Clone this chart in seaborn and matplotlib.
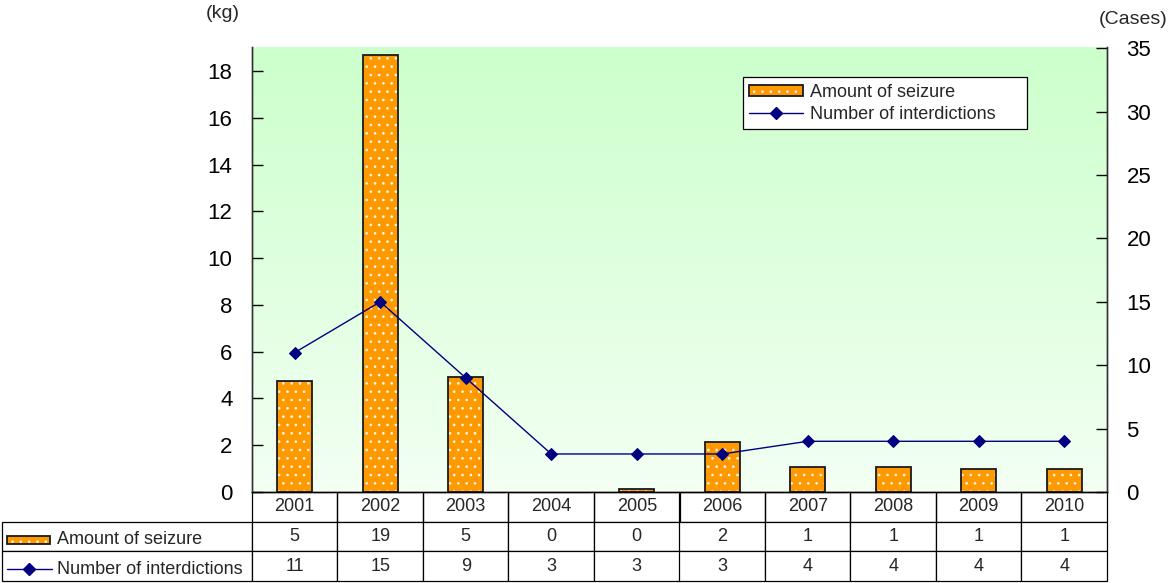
import numpy as np
import pandas as pd
import matplotlib
matplotlib.use("Agg")
import matplotlib.pyplot as plt
from matplotlib.patches import Rectangle
from matplotlib.lines import Line2D
from matplotlib.colors import LinearSegmentedColormap
import seaborn as sns

# Data
years = ["2001", "2002", "2003", "2004", "2005", "2006", "2007", "2008", "2009", "2010"]
seizure_kg = [4.75, 18.7, 4.9, 0.0, 0.12, 2.12, 1.06, 1.06, 1.0, 1.0]
interdictions = [11, 15, 9, 3, 3, 3, 4, 4, 4, 4]
seizure_label = "Amount of seizure"
interdiction_label = "Number of interdictions"
left_ticks = [0, 2, 4, 6, 8, 10, 12, 14, 16, 18]
right_ticks = [0, 5, 10, 15, 20, 25, 30, 35]

sns.set_theme(style="white")
plt.rcParams["font.family"] = ["Liberation Sans", "DejaVu Sans"]
plt.rcParams["hatch.linewidth"] = 0.7

BAR_COLOR = "#FF9900"
LINE_COLOR = "#000080"
EDGE = "#1a1a1a"
TXT = 13

df = pd.DataFrame({"year": years, "kg": seizure_kg, "cases": interdictions})
df["pos"] = np.arange(len(df))

W, H = 1172, 583
fig = plt.figure(figsize=(W / 100, H / 100), dpi=100)
ax = fig.add_axes([252 / W, 1 - 492 / H, 855 / W, 445 / H])

# green gradient background of the plot area
cmap = LinearSegmentedColormap.from_list("bg", ["#F3FFF3", "#CCFFCC"])
grad = np.linspace(0, 1, 256).reshape(-1, 1)
ax.imshow(grad, extent=[0, 1, 0, 1], transform=ax.transAxes, cmap=cmap,
          origin="lower", aspect="auto", zorder=0)

sns.barplot(data=df, x="year", y="kg", ax=ax, color=BAR_COLOR, width=0.41,
            saturation=1, zorder=2)
# dotted fill plus a dark outline on each bar
for p in ax.patches:
    p.set_hatch("..")
    p.set_edgecolor("#FFF4E8")
    p.set_linewidth(0)
    if p.get_height() > 0:
        ax.add_patch(Rectangle(p.get_xy(), p.get_width(), p.get_height(),
                               fill=False, ec=EDGE, lw=1.3, zorder=3))

ax.set_xlim(-0.5, len(years) - 0.5)
ax.set_ylim(0, 19.03)
ax.set_yticks(left_ticks)
ax.set_xlabel("")
ax.set_ylabel("")
ax.set_xticks([])
ax.tick_params(axis="y", direction="in", length=8, width=1, labelsize=16,
               pad=14, left=True, colors="black")

ax2 = ax.twinx()
sns.lineplot(data=df, x="pos", y="cases", ax=ax2, color=LINE_COLOR, lw=1.0,
             marker="D", markersize=6, markeredgecolor=LINE_COLOR, zorder=4)
ax2.set_ylim(0, 35.1)
ax2.set_yticks(right_ticks)
ax2.set_xlim(-0.5, len(years) - 0.5)
ax2.set_xlabel("")
ax2.set_ylabel("")
ax2.set_xticks([])
ax2.tick_params(axis="y", direction="in", length=8, width=1, labelsize=16,
                pad=14, right=True, colors="black")

for a in (ax, ax2):
    a.spines["top"].set_visible(False)
    a.spines["left"].set_color("#333333")
    a.spines["right"].set_color("#333333")
    a.spines["bottom"].set_color("black")
    for s in a.spines.values():
        s.set_linewidth(1.0)


def bar_swatch(**kw):
    fill = Rectangle((0, 0), 1, 1, fc=BAR_COLOR, ec="#FFF4E8", lw=0, hatch="..", **kw)
    outline = Rectangle((0, 0), 1, 1, fill=False, ec=EDGE, lw=1.3, **kw)
    return fill, outline


# legend, stretched to a fixed box in the upper right of the plot area
line_handle = Line2D([], [], color=LINE_COLOR, lw=1.0, marker="D", markersize=6)
leg = ax2.legend([bar_swatch(), line_handle], [seizure_label, interdiction_label],
                 loc="upper left", bbox_to_anchor=(0.574, 0.813, 0.333, 0.119),
                 mode="expand", fontsize=TXT,
                 frameon=True, fancybox=False, edgecolor="black", framealpha=1,
                 handlelength=3.0, handleheight=0.55, borderpad=0.35,
                 labelspacing=0.3, handletextpad=0.4, borderaxespad=0)
leg.get_frame().set_linewidth(0.9)

# data table below the axes
label_w = 250 / 855
col_widths = [label_w] + [1 / len(years)] * len(years)
cell_text = [[""] + [f"{v:.0f}" for v in seizure_kg],
             [""] + [str(v) for v in interdictions]]
tbl = ax.table(cellText=cell_text, colLabels=[""] + years, colWidths=col_widths,
               cellLoc="center", bbox=[-label_w, -0.2, 1 + label_w, 0.2])
tbl.auto_set_font_size(False)
tbl.set_fontsize(TXT)
for (r, c), cell in tbl.get_celld().items():
    cell.set_linewidth(0.9)
    cell.set_edgecolor("black")
    cell.set_facecolor("white")
    if r == 0:
        cell.visible_edges = "LRB" if c > 0 else "open"
tbl.set_zorder(5)

# row-label swatches and texts
row_y = [1 - 540 / H, 1 - 569 / H]
for patch in bar_swatch(transform=fig.transFigure):
    patch.set_bounds(7 / W, row_y[0] - 4 / H, 43 / W, 8 / H)
    fig.patches.append(patch)
fig.lines.append(Line2D([7 / W, 52 / W], [row_y[1], row_y[1]],
                        transform=fig.transFigure, color=LINE_COLOR, lw=1.0))
fig.lines.append(Line2D([29 / W], [row_y[1]], transform=fig.transFigure,
                        color=LINE_COLOR, marker="D", markersize=6))
fig.text(57 / W, row_y[0], seizure_label, fontsize=TXT, va="center", ha="left")
fig.text(57 / W, row_y[1], interdiction_label, fontsize=TXT, va="center", ha="left")

# axis units
fig.text(223 / W, 1 - 14 / H, "(kg)", fontsize=14, ha="center", va="center")
fig.text(1133 / W, 1 - 20 / H, "(Cases)", fontsize=14, ha="center", va="center")

fig.savefig("out.png", dpi=100)
